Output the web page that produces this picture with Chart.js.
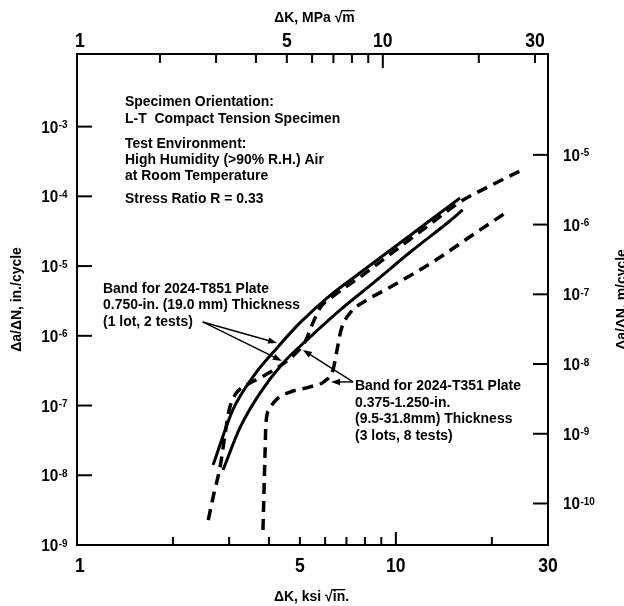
<!DOCTYPE html>
<html>
<head>
<meta charset="utf-8">
<script src="https://cdn.jsdelivr.net/npm/chart.js@4/dist/chart.umd.min.js"></script>
<style>
  html, body { margin: 0; padding: 0; background: #fff; }
</style>
</head>
<body>
<canvas id="chart" width="624" height="606"></canvas>
<script>
// delta K in ksi*sqrt(in.), crack growth rate in in./cycle
var t851UpperK = [2.67, 3.08, 3.56, 4.24, 5.00, 6.08, 7.71, 10.3, 13.1, 15.9];
var t851UpperRate = [1.40e-8, 8.6e-8, 2.56e-7, 6.7e-7, 1.53e-6, 3.48e-6, 7.96e-6, 2.14e-5, 4.9e-5, 9.46e-5];

var t851LowerK = [2.87, 3.25, 3.75, 4.43, 5.38, 6.68, 8.48, 11.3, 14.5, 16.2];
var t851LowerRate = [1.19e-8, 4.9e-8, 1.51e-7, 4.07e-7, 9.6e-7, 2.34e-6, 5.7e-6, 1.7e-5, 4.15e-5, 6.4e-5];

var t351UpperK = [2.58, 2.69, 2.81, 2.91, 3.00, 3.13, 3.36, 3.80, 4.33, 4.86, 5.19, 5.46, 5.78, 6.31, 7.72, 10.3, 13.07, 15.89, 19.73, 24.5];
var t351UpperRate = [2.28e-9, 5.57e-9, 1.31e-8, 3.78e-8, 8.63e-8, 1.42e-7, 1.91e-7, 2.56e-7, 3.69e-7, 5.66e-7, 8.15e-7, 1.43e-6, 2.51e-6, 3.61e-6, 6.97e-6, 1.88e-5, 4.28e-5, 8.3e-5, 1.41e-4, 2.31e-4];

var t351LowerK = [3.83, 3.86, 3.89, 3.91, 4.00, 4.24, 4.66, 5.38, 5.99, 6.35, 6.54, 6.73, 7.18, 8.12, 9.38, 13.07, 17.96, 22.3];
var t351LowerRate = [1.64e-9, 6.15e-9, 2.3e-8, 5.26e-8, 8.63e-8, 1.24e-7, 1.56e-7, 1.85e-7, 2.25e-7, 3.24e-7, 6.27e-7, 1.21e-6, 2.12e-6, 3.27e-6, 4.69e-6, 1.15e-5, 3.08e-5, 5.97e-5];

var ksiTicks = [1, 2, 3, 4, 5, 6, 7, 8, 9, 10, 20, 30];
var ksiLabels = [1, 5, 10, 30];
var mpaTicks = [2, 3, 4, 5, 6, 7, 8, 9, 10, 20, 30];
var mpaLabels = [1, 5, 10, 30];
var inExponents = [-9, -8, -7, -6, -5, -4, -3];
var mExponents = [-10, -9, -8, -7, -6, -5];

var KSI_TO_MPA = 1.0988;
var IN_TO_M = 0.0254;
var RATE_MAX = 1.1e-2;

var FONT = '"Liberation Sans", Arial, Helvetica, sans-serif';

function pairs(xs, ys) {
    return xs.map(function (x, i) { return { x: x, y: ys[i] }; });
}

function txt(ctx, s, x, y, size, align, sx) {
    ctx.save();
    ctx.font = 'bold ' + size + 'px ' + FONT;
    ctx.textAlign = align || 'left';
    ctx.textBaseline = 'alphabetic';
    ctx.translate(x, y);
    ctx.scale(sx || 1, 1);
    ctx.fillText(s, 0, 0);
    ctx.restore();
}

function txtWidth(ctx, s, size, sx) {
    ctx.font = 'bold ' + size + 'px ' + FONT;
    return ctx.measureText(s).width * (sx || 1);
}

function tickLine(ctx, x1, y1, x2, y2) {
    ctx.beginPath();
    ctx.moveTo(x1, y1);
    ctx.lineTo(x2, y2);
    ctx.stroke();
}

// "10" with a raised exponent
function powLabel(ctx, exp, x, cy, align) {
    var wb = txtWidth(ctx, '10', 17, 0.9);
    var ws = txtWidth(ctx, String(exp), 11, 0.9);
    var x0 = align === 'right' ? x - wb - ws - 1 : x;
    txt(ctx, '10', x0, cy + 6, 17, 'left', 0.9);
    txt(ctx, String(exp), x0 + wb + 0.5, cy + 1.5, 11, 'left', 0.9);
}

function sqrtTitle(ctx, pre, rad, post, cx, base) {
    var size = 15, sx = 0.93;
    var w1 = txtWidth(ctx, pre, size, sx);
    var w2 = txtWidth(ctx, '\u221A', size, sx);
    var w3 = txtWidth(ctx, rad, size, sx);
    var w4 = txtWidth(ctx, post, size, sx);
    var x = cx - (w1 + w2 + w3 + w4) / 2;
    txt(ctx, pre, x, base, size, 'left', sx);
    txt(ctx, '\u221A', x + w1, base, size, 'left', sx);
    txt(ctx, rad, x + w1 + w2, base, size, 'left', sx);
    txt(ctx, post, x + w1 + w2 + w3, base, size, 'left', sx);
    ctx.font = 'bold ' + size + 'px ' + FONT;
    var top = base - ctx.measureText('\u221A').actualBoundingBoxAscent;
    ctx.fillRect(x + w1 + w2 - 1, top, w3 + 1, 1.3);
}

function vTitle(ctx, s, cx, cy) {
    ctx.save();
    ctx.translate(cx, cy);
    ctx.rotate(-Math.PI / 2);
    ctx.font = 'bold 15px ' + FONT;
    ctx.textAlign = 'center';
    ctx.textBaseline = 'middle';
    ctx.scale(0.93, 1);
    ctx.fillText(s, 0, 0);
    ctx.restore();
}

function arrow(ctx, x1, y1, x2, y2) {
    var a = Math.atan2(y2 - y1, x2 - x1), L = 9, W = 3.2;
    var c = Math.cos(a), s = Math.sin(a);
    ctx.beginPath();
    ctx.moveTo(x1, y1);
    ctx.lineTo(x2 - L * c * 0.7, y2 - L * s * 0.7);
    ctx.stroke();
    ctx.beginPath();
    ctx.moveTo(x2, y2);
    ctx.lineTo(x2 - L * c - W * s, y2 - L * s + W * c);
    ctx.lineTo(x2 - L * c + W * s, y2 - L * s - W * c);
    ctx.closePath();
    ctx.fill();
}

// notes and arrows; arrow ends given in (ksi*sqrt(in), in./cycle)
var noteLines = [
    { x: 125, y: 106, s: 'Specimen Orientation:' },
    { x: 125, y: 123, s: 'L-T  Compact Tension Specimen' },
    { x: 125, y: 148, s: 'Test Environment:' },
    { x: 125, y: 164, s: 'High Humidity (>90% R.H.) Air' },
    { x: 125, y: 180, s: 'at Room Temperature' },
    { x: 125, y: 203, s: 'Stress Ratio R = 0.33' },
    { x: 103, y: 292.5, s: 'Band for 2024-T851 Plate' },
    { x: 103, y: 309, s: '0.750-in. (19.0 mm) Thickness' },
    { x: 103, y: 325.5, s: '(1 lot, 2 tests)' },
    { x: 355, y: 390, s: 'Band for 2024-T351 Plate' },
    { x: 355, y: 406.5, s: '0.375-1.250-in.' },
    { x: 355, y: 423, s: '(9.5-31.8mm) Thickness' },
    { x: 355, y: 439.5, s: '(3 lots, 8 tests)' }
];
var arrows = [
    { from: [2.48, 1.58e-6], to: [4.24, 7.9e-7] },
    { from: [2.48, 1.58e-6], to: [4.39, 4.36e-7] },
    { from: [7.34, 2.18e-7], to: [5.11, 6.27e-7] },
    { from: [7.34, 2.18e-7], to: [6.26, 2.18e-7] }
];

var axisDecor = {
    id: 'axisDecor',
    afterDraw: function (chart) {
        var ctx = chart.ctx, sc = chart.scales, area = chart.chartArea;
        ctx.save();
        ctx.fillStyle = '#000';
        ctx.strokeStyle = '#000';
        ctx.lineWidth = 2;

        // inward tick marks
        sc.x.ticks.forEach(function (t) {
            var px = sc.x.getPixelForValue(t.value);
            if (px <= area.left + 2 || px >= area.right - 2) return;
            tickLine(ctx, px, area.bottom, px, area.bottom - (t.value === 10 ? 13 : 8));
        });
        sc.x2.ticks.forEach(function (t) {
            var px = sc.x2.getPixelForValue(t.value);
            if (px <= area.left + 2 || px >= area.right - 2) return;
            tickLine(ctx, px, area.top, px, area.top + (t.value === 10 ? 14 : 9));
        });
        sc.y.ticks.forEach(function (t) {
            var py = sc.y.getPixelForValue(t.value);
            if (py >= area.bottom - 2 || py <= area.top + 2) return;
            tickLine(ctx, area.left, py, area.left + 15, py);
        });
        sc.y2.ticks.forEach(function (t) {
            var py = sc.y2.getPixelForValue(t.value);
            if (py >= area.bottom - 2 || py <= area.top + 2) return;
            tickLine(ctx, area.right, py, area.right - 15, py);
        });

        // tick labels
        ksiLabels.forEach(function (v) {
            var px = Math.min(Math.max(sc.x.getPixelForValue(v), area.left + 3), area.right);
            txt(ctx, String(v), px, area.bottom + 27, 20, 'center', 0.88);
        });
        mpaLabels.forEach(function (v) {
            var px = Math.min(Math.max(sc.x2.getPixelForValue(v), area.left + 3), area.right);
            txt(ctx, String(v), px, area.top - 7, 20, 'center', 0.88);
        });
        inExponents.forEach(function (e) {
            powLabel(ctx, e, area.left - 9, sc.y.getPixelForValue(Math.pow(10, e)), 'right');
        });
        mExponents.forEach(function (e) {
            powLabel(ctx, e, area.right + 15, sc.y2.getPixelForValue(Math.pow(10, e)), 'left');
        });

        // axis titles
        var mid = (area.left + area.right) / 2;
        var midY = (area.top + area.bottom) / 2;
        sqrtTitle(ctx, '\u0394K, ksi ', 'in', '.', mid - 1, 601);
        sqrtTitle(ctx, '\u0394K, MPa ', 'm', '', mid + 2, 22);
        vTitle(ctx, '\u0394a/\u0394N, in./cycle', 17, midY);
        vTitle(ctx, '\u0394a/\u0394N, m/cycle', 622, midY);

        // notes
        noteLines.forEach(function (n) {
            txt(ctx, n.s, n.x, n.y, 15, 'left', 0.93);
        });
        ctx.lineWidth = 1.4;
        arrows.forEach(function (a) {
            arrow(ctx,
                sc.x.getPixelForValue(a.from[0]), sc.y.getPixelForValue(a.from[1]),
                sc.x.getPixelForValue(a.to[0]), sc.y.getPixelForValue(a.to[1]));
        });
        ctx.restore();
    }
};

function logAxis(position, min, max, tickValues) {
    return {
        type: 'logarithmic',
        position: position,
        min: min,
        max: max,
        afterBuildTicks: function (scale) {
            scale.ticks = tickValues.map(function (v) { return { value: v }; });
        },
        ticks: { display: false },
        grid: { drawOnChartArea: false, drawTicks: false },
        border: { display: true, color: '#000', width: 2 }
    };
}

function curve(label, xs, ys, isDashed) {
    return {
        label: label,
        data: pairs(xs, ys),
        showLine: true,
        borderColor: '#000',
        backgroundColor: '#000',
        borderWidth: isDashed ? 3.5 : 3,
        borderDash: isDashed ? [11, 7] : [],
        borderCapStyle: 'butt',
        pointRadius: 0,
        cubicInterpolationMode: 'monotone'
    };
}

var chart = new Chart(document.getElementById('chart'), {
    type: 'scatter',
    data: {
        datasets: [
            curve('2024-T351 upper', t351UpperK, t351UpperRate, true),
            curve('2024-T351 lower', t351LowerK, t351LowerRate, true),
            curve('2024-T851 upper', t851UpperK, t851UpperRate, false),
            curve('2024-T851 lower', t851LowerK, t851LowerRate, false)
        ]
    },
    options: {
        responsive: false,
        animation: false,
        devicePixelRatio: 1,
        layout: { padding: { left: 77, right: 76, top: 54, bottom: 61 } },
        plugins: { legend: { display: false }, tooltip: { enabled: false } },
        scales: {
            x: logAxis('bottom', 1, 30, ksiTicks),
            x2: logAxis('top', KSI_TO_MPA, 30 * KSI_TO_MPA, mpaTicks),
            y: logAxis('left', 1e-9, RATE_MAX, inExponents.map(function (e) { return Math.pow(10, e); })),
            y2: logAxis('right', 1e-9 * IN_TO_M, RATE_MAX * IN_TO_M, mExponents.map(function (e) { return Math.pow(10, e); }))
        }
    },
    plugins: [axisDecor]
});
</script>
</body>
</html>
